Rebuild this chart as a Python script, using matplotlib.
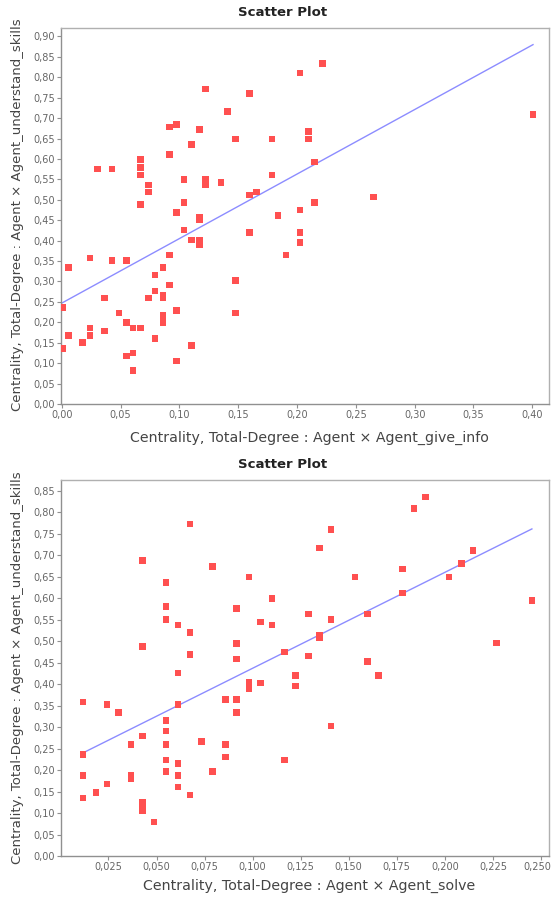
import matplotlib
matplotlib.use("Agg")
import matplotlib.pyplot as plt
import matplotlib.transforms as mtransforms
import numpy as np
from matplotlib.ticker import FuncFormatter, MultipleLocator

# ---------------- data: top chart (give_info vs understand_skills) ----------------
give_info_x = [0.0006, 0.0006, 0.0057, 0.0057, 0.0176, 0.024, 0.024, 0.024, 0.0306, 0.0363,
               0.0363, 0.0428, 0.0428, 0.0487, 0.055, 0.055, 0.055, 0.0606, 0.0606, 0.0606,
               0.0671, 0.0671, 0.0671, 0.0671, 0.0671, 0.0737, 0.0737, 0.0737, 0.0793, 0.0793,
               0.0793, 0.0861, 0.0861, 0.0861, 0.0861, 0.0861, 0.0918, 0.0918, 0.0918, 0.0918,
               0.0977, 0.0977, 0.0977, 0.0977, 0.104, 0.104, 0.104, 0.104, 0.1105, 0.1105,
               0.1105, 0.117, 0.117, 0.117, 0.117, 0.117, 0.1224, 0.1224, 0.1224, 0.1354,
               0.141, 0.1479, 0.1479, 0.1479, 0.1598, 0.1598, 0.1598, 0.1657, 0.1788, 0.1788,
               0.1840, 0.1907, 0.2026, 0.2026, 0.2026, 0.2026, 0.2096, 0.2096, 0.215, 0.215,
               0.2215, 0.2649, 0.4006]
understand_top_y = [0.236, 0.136, 0.334, 0.168, 0.150, 0.358, 0.186, 0.168, 0.575, 0.260,
                    0.179, 0.352, 0.575, 0.223, 0.352, 0.199, 0.118, 0.186, 0.125, 0.082,
                    0.599, 0.579, 0.561, 0.488, 0.186, 0.536, 0.519, 0.260, 0.316, 0.277,
                    0.161, 0.334, 0.266, 0.260, 0.217, 0.199, 0.678, 0.611, 0.365, 0.291,
                    0.684, 0.469, 0.229, 0.105, 0.550, 0.494, 0.493, 0.426, 0.635, 0.402,
                    0.143, 0.672, 0.457, 0.451, 0.402, 0.391, 0.771, 0.551, 0.537, 0.543,
                    0.716, 0.649, 0.303, 0.223, 0.760, 0.512, 0.420, 0.519, 0.649, 0.561,
                    0.462, 0.365, 0.810, 0.475, 0.420, 0.395, 0.667, 0.649, 0.592, 0.4935,
                    0.834, 0.507, 0.7095]
top_fit = [1.58, 0.247]          # slope, intercept of the fitted line

# ---------------- data: bottom chart (solve vs understand_skills) ----------------
solve_x = [0.0118, 0.0118, 0.0118, 0.0118, 0.0184, 0.0243, 0.0243, 0.0302, 0.0368, 0.0368,
           0.0368, 0.0427, 0.0427, 0.0427, 0.0427, 0.0427, 0.0427, 0.0486, 0.055, 0.055,
           0.055, 0.055, 0.055, 0.055, 0.055, 0.055, 0.0611, 0.0611, 0.0611, 0.0611,
           0.0611, 0.0611, 0.0675, 0.0675, 0.0675, 0.0675, 0.0734, 0.0792, 0.0792, 0.0858,
           0.0858, 0.0858, 0.0917, 0.0917, 0.0917, 0.0917, 0.0917, 0.0981, 0.0981, 0.0981,
           0.0981, 0.104, 0.104, 0.110, 0.110, 0.1165, 0.1165, 0.1224, 0.1224, 0.129,
           0.129, 0.1347, 0.1347, 0.1347, 0.1408, 0.1408, 0.1408, 0.1533, 0.1597, 0.1597,
           0.1655, 0.178, 0.178, 0.1839, 0.190, 0.2022, 0.2087, 0.2146, 0.2269, 0.2453]
understand_bot_y = [0.358, 0.236, 0.187, 0.135, 0.148, 0.353, 0.167, 0.334, 0.260, 0.187,
                    0.180, 0.687, 0.488, 0.279, 0.124, 0.114, 0.105, 0.079, 0.636, 0.580,
                    0.550, 0.315, 0.291, 0.260, 0.223, 0.197, 0.537, 0.426, 0.353, 0.215,
                    0.187, 0.161, 0.772, 0.520, 0.469, 0.142, 0.266, 0.674, 0.197, 0.364,
                    0.260, 0.230, 0.576, 0.494, 0.458, 0.364, 0.334, 0.649, 0.404, 0.397,
                    0.390, 0.544, 0.403, 0.599, 0.537, 0.475, 0.223, 0.420, 0.396, 0.563,
                    0.465, 0.717, 0.514, 0.507, 0.760, 0.550, 0.302, 0.649, 0.563, 0.452,
                    0.420, 0.668, 0.612, 0.809, 0.835, 0.649, 0.681, 0.711, 0.496, 0.594]
bot_fit = [2.231, 0.2137]

title_text = "Scatter Plot"
ylabel_text = "Centrality, Total-Degree : Agent \u00d7 Agent_understand_skills"
xlabel_top = "Centrality, Total-Degree : Agent \u00d7 Agent_give_info"
xlabel_bot = "Centrality, Total-Degree : Agent \u00d7 Agent_solve"

W, H = 551, 897
fig = plt.figure(figsize=(W / 100, H / 100), dpi=100)
fig.patch.set_facecolor("white")

RED = "#FF5050"
BLUE = "#8C8CFF"
TICKC = "#666666"
LABC = "#444444"


def px_axes(l, t, r, b):
    return fig.add_axes([l / W, 1 - b / H, (r - l) / W, (b - t) / H])


def style(ax, decimals):
    for s in ax.spines.values():
        s.set_color("#B0B0B0")
        s.set_linewidth(1.0)
    ax.spines["left"].set_color("#909090")
    ax.spines["bottom"].set_color("#909090")
    ax.tick_params(axis="both", colors="#909090", labelcolor=TICKC, labelsize=7,
                   length=3, width=0.8, pad=1.5, direction="out")
    ax.tick_params(top=False, right=False)
    fmt = lambda v, p, d: (f"{v:.{d}f}").replace(".", ",")
    ax.xaxis.set_major_formatter(FuncFormatter(lambda v, p: fmt(v, p, decimals)))
    ax.yaxis.set_major_formatter(FuncFormatter(lambda v, p: fmt(v, p, 2)))


def draw(ax, xs, ys, fit):
    xs = np.asarray(xs)
    ys = np.asarray(ys)
    xl = np.array([xs.min(), xs.max()])
    ax.plot(xl, fit[0] * xl + fit[1], color=BLUE, lw=1.0, zorder=2)
    ax.scatter(xs, ys, marker="s", s=22, color=RED, edgecolors="none", zorder=3)


# top chart
ax1 = px_axes(61, 28, 549, 404)
draw(ax1, give_info_x, understand_top_y, top_fit)
ax1.set_xlim(-0.0006, 0.4142)
ax1.set_ylim(0, 0.9207)
ax1.xaxis.set_major_locator(MultipleLocator(0.05))
ax1.yaxis.set_major_locator(MultipleLocator(0.05))
style(ax1, 2)

# bottom chart
ax2 = px_axes(61, 480, 549, 856)
draw(ax2, solve_x, understand_bot_y, bot_fit)
ax2.set_xlim(0.0003, 0.2542)
ax2.set_ylim(0, 0.8748)
ax2.set_xticks(np.arange(0.025, 0.2501, 0.025))
ax2.yaxis.set_major_locator(MultipleLocator(0.05))
style(ax2, 3)

# keep the last bottom tick label inside the figure
fig.canvas.draw()
last = ax2.get_xticklabels()[-1]
last.set_transform(last.get_transform() +
                   mtransforms.ScaledTranslation(-4 / 100, 0, fig.dpi_scale_trans))

for (ty, xly, yc, xl) in [(13, 437.5, 215, xlabel_top), (464, 886, 668, xlabel_bot)]:
    fig.text(283 / W, 1 - ty / H, title_text, ha="center", va="center",
             fontsize=9.5, fontweight="bold", color="#222222")
    fig.text(309 / W, 1 - xly / H, xl, ha="center", va="center",
             fontsize=10.2, color=LABC)
    fig.text(18 / W, 1 - yc / H, ylabel_text, ha="center", va="center",
             rotation=90, fontsize=9.5, color=LABC)

fig.savefig("out.png", dpi=100, facecolor="white")
